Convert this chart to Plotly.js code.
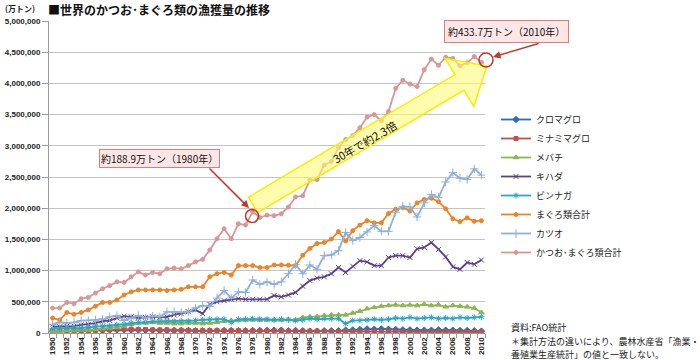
<!DOCTYPE html>
<html><head><meta charset="utf-8">
<script src="https://cdn.plot.ly/plotly-3.0.1.min.js"></script>
<style>html,body{margin:0;padding:0;background:#fff}#chart{width:700px;height:360px}</style>
</head><body><div id="chart"></div>
<script>
const years = [1950,1951,1952,1953,1954,1955,1956,1957,1958,1959,1960,1961,1962,1963,1964,1965,1966,1967,1968,1969,1970,1971,1972,1973,1974,1975,1976,1977,1978,1979,1980,1981,1982,1983,1984,1985,1986,1987,1988,1989,1990,1991,1992,1993,1994,1995,1996,1997,1998,1999,2000,2001,2002,2003,2004,2005,2006,2007,2008,2009,2010];
const tickYears = [1950,1952,1954,1956,1958,1960,1962,1964,1966,1968,1970,1972,1974,1976,1978,1980,1982,1984,1986,1988,1990,1992,1994,1996,1998,2000,2002,2004,2006,2008,2010];
const seriesNames = ['クロマグロ','ミナミマグロ','メバチ','キハダ','ビンナガ','まぐろ類合計','カツオ','かつお･まぐろ類合計'];

const kuromaguro = [30000,30000,35000,35000,40000,40000,45000,45000,50000,50000, 50000,50000,50000,45000,45000,40000,40000,40000,40000,40000, 35000,35000,35000,35000,40000,40000,35000,35000,40000,40000, 40000,45000,45000,35000,40000,35000,30000,30000,35000,35000, 35000,45000,50000,55000,65000,60000,65000,60000,55000,50000, 50000,45000,45000,45000,50000,45000,45000,40000,40000,35000, 30000];
const minamimaguro = [20000,20000,25000,30000,35000,35000,40000,45000,50000,55000, 60000,60000,55000,55000,50000,50000,50000,45000,45000,45000, 40000,40000,40000,40000,40000,40000,40000,35000,35000,35000, 35000,35000,35000,30000,30000,30000,30000,30000,25000,25000, 20000,20000,20000,20000,20000,20000,20000,20000,20000,20000, 15000,15000,15000,15000,15000,15000,15000,15000,15000,15000, 15000];
const mebachi = [30000,30000,40000,40000,50000,50000,60000,70000,80000,90000, 110000,140000,160000,160000,170000,160000,160000,150000,150000,160000, 160000,150000,160000,170000,190000,200000,200000,210000,210000,210000, 210000,210000,210000,220000,210000,250000,260000,260000,280000,290000, 290000,290000,320000,350000,390000,410000,430000,440000,450000,440000, 450000,440000,460000,440000,450000,420000,440000,430000,420000,400000, 330000];
const kihada = [100000,100000,110000,110000,130000,140000,160000,190000,200000,240000, 270000,260000,240000,250000,260000,250000,260000,290000,310000,340000, 370000,310000,460000,500000,520000,540000,550000,540000,540000,540000, 540000,600000,580000,610000,650000,750000,840000,880000,900000,950000, 1050000,970000,1070000,1160000,1140000,1080000,1080000,1210000,1240000,1240000, 1210000,1350000,1370000,1450000,1340000,1220000,1060000,1020000,1130000,1100000, 1170000];
const binnaga = [70000,70000,80000,80000,80000,90000,100000,110000,110000,130000, 140000,160000,170000,180000,190000,190000,190000,190000,190000,190000, 200000,210000,220000,220000,220000,170000,220000,220000,230000,220000, 220000,210000,220000,210000,200000,210000,230000,220000,230000,230000, 230000,150000,200000,200000,210000,220000,210000,220000,240000,230000, 250000,230000,240000,250000,230000,240000,230000,250000,240000,250000, 260000];
const maguroTotal = [240000,210000,330000,300000,330000,370000,430000,490000,490000,530000, 610000,660000,690000,690000,690000,690000,680000,690000,700000,740000, 740000,740000,900000,950000,970000,930000,1080000,1080000,1080000,1050000, 1050000,1090000,1090000,1085000,1080000,1245000,1355000,1435000,1450000,1505000, 1625000,1475000,1640000,1730000,1800000,1765000,1765000,1915000,1985000,2010000, 1955000,2085000,2140000,2160000,2105000,1990000,1830000,1785000,1845000,1790000, 1800000];
const katsuo = [140000,170000,160000,170000,200000,200000,210000,220000,260000,280000, 200000,240000,280000,240000,270000,260000,340000,340000,330000,340000, 400000,440000,430000,560000,680000,560000,660000,650000,850000,780000, 820000,780000,820000,950000,1100000,950000,1090000,1020000,1240000,1250000, 1320000,1610000,1480000,1530000,1620000,1720000,1630000,1630000,1935000,2030000, 2020000,1860000,2085000,2220000,2170000,2420000,2570000,2480000,2460000,2630000, 2530000];
const allTotal = [400000,400000,490000,470000,550000,570000,640000,710000,760000,820000, 810000,900000,980000,930000,970000,950000,1030000,1040000,1030000,1080000, 1140000,1180000,1330000,1510000,1670000,1510000,1750000,1730000,1940000,1850000, 1889000,1880000,1910000,2020000,2180000,2200000,2450000,2460000,2690000,2750000, 2970000,3100000,3160000,3290000,3460000,3500000,3400000,3550000,3920000,4050000, 3990000,3950000,4220000,4390000,4290000,4420000,4400000,4280000,4330000,4430000, 4337000];

const values = [kuromaguro, minamimaguro, mebachi, kihada, binnaga, maguroTotal, katsuo, allTotal];
const colors = ['#2f6eb5','#c0504d','#8db64c','#5b3f8c','#2aa6c4','#ec8324','#8eb0d9','#d99694'];
const symbols = ['diamond','square','triangle-up','x-thin-open','asterisk-open','circle','cross-thin-open','circle'];
const msize = [5,4,5,5,5,4,6,4];

const FONT = 'Noto Sans CJK JP, Noto Sans, sans-serif';
const traces = seriesNames.map((n,i)=>({
  type:'scatter', mode:'lines+markers', name:n, x:years, y:values[i],
  line:{color:colors[i], width:1.8},
  marker:{symbol:symbols[i], size:msize[i], color:colors[i], line:{color:colors[i], width:1}}
}));

// pixel -> paper helpers (plot area: x 49..485, y 21..333)
const L=49, R=215, T=21, B=27, W=700, H=360;
const PW=W-L-R, PH=H-T-B;
const px = v => (v-L)/PW;
const py = v => (H-B-v)/PH;

// big yellow arrow geometry (pixels)
const base=[253,205], tip=[487,66];
const dx=tip[0]-base[0], dy=tip[1]-base[1], len=Math.hypot(dx,dy);
const u=[dx/len, dy/len], nrm=[-u[1], u[0]];
const sw=9, hw=28, hl=32;
const hb=[tip[0]-hl*u[0], tip[1]-hl*u[1]];
const pts=[
  [base[0]-sw*nrm[0], base[1]-sw*nrm[1]],
  [hb[0]-sw*nrm[0], hb[1]-sw*nrm[1]],
  [hb[0]-hw*nrm[0], hb[1]-hw*nrm[1]],
  tip,
  [hb[0]+hw*nrm[0], hb[1]+hw*nrm[1]],
  [hb[0]+sw*nrm[0], hb[1]+sw*nrm[1]],
  [base[0]+sw*nrm[0], base[1]+sw*nrm[1]]
];
const path = 'M ' + pts.map(p=>px(p[0]).toFixed(5)+','+py(p[1]).toFixed(5)).join(' L ') + ' Z';

function circ(cx,cy,r){
  return {type:'circle', xref:'paper', yref:'paper', x0:px(cx-r), x1:px(cx+r), y0:py(cy+r), y1:py(cy-r),
    line:{color:'#c0392b', width:1.5}, fillcolor:'rgba(0,0,0,0)', layer:'above'};
}
function txt(x,y,text,opts){
  return Object.assign({xref:'paper', yref:'paper', x:px(x), y:py(y), xanchor:'center', yanchor:'middle',
    showarrow:false, text:text, font:{family:FONT, size:9, color:'#222'}}, opts||{});
}

const layout = {
  width:W, height:H, margin:{l:L, r:R, t:T, b:B, pad:0},
  paper_bgcolor:'#fff', plot_bgcolor:'#fff',
  font:{family:FONT, size:9, color:'#222'},
  title:{text:'■世界のかつお･まぐろ類の漁獲量の推移', x:48/W, xanchor:'left', y:1-11/H, yanchor:'middle',
    font:{family:FONT, size:12, color:'#111', weight:'bold'}},
  showlegend:true,
  legend:{x:px(496), y:py(105), xanchor:'left', yanchor:'top', font:{family:FONT, size:9, color:'#222'},
    itemwidth:30, bgcolor:'rgba(0,0,0,0)', traceorder:'normal', tracegroupgap:0},
  xaxis:{range:[1949.5,2010.5], tickvals:tickYears, ticktext:tickYears.map(String), tickangle:-90,
    tickfont:{family:'Liberation Sans, Arial', size:8, color:'#222', weight:'bold'},
    showline:true, linecolor:'#9a9a9a', linewidth:1, showgrid:false, zeroline:false, ticks:'',
    minor:{tick0:1949.5, dtick:1, ticks:'outside', ticklen:4, tickcolor:'#9a9a9a', showgrid:false}},
  yaxis:{range:[0,5000000], dtick:500000, tickformat:',d',
    tickfont:{family:'Liberation Sans, Arial', size:8, color:'#222', weight:'bold'},
    showline:true, linecolor:'#9a9a9a', linewidth:1, ticks:'outside', ticklen:6, tickcolor:'#9a9a9a',
    showgrid:true, gridcolor:'#c4c4c4', gridwidth:1, zeroline:false},
  shapes:[
    {type:'path', path:path, xref:'paper', yref:'paper', fillcolor:'rgba(255,250,120,0.6)',
     line:{color:'#f4ee00', width:1.5}, layer:'above'},
    circ(252,216,6.5), circ(486,60,7)
  ],
  annotations:[
    txt(3,9,'(万トン)',{xanchor:'left', font:{family:FONT, size:8, color:'#222', weight:'bold'}}),
    {xref:'paper', yref:'paper', x:px(249), y:py(208), ax:-41, ay:-41, axref:'pixel', ayref:'pixel', text:'',
     showarrow:true, arrowhead:2, arrowsize:1, arrowwidth:1.5, arrowcolor:'#c0392b', standoff:0},
    {xref:'paper', yref:'paper', x:px(493), y:py(57), ax:47, ay:-14, axref:'pixel', ayref:'pixel', text:'',
     showarrow:true, arrowhead:2, arrowsize:1, arrowwidth:1.5, arrowcolor:'#c0392b', standoff:0},
    txt(159,158,'約188.9万トン（1980年）',{font:{family:FONT, size:10, color:'#111'}, bgcolor:'#fde6e6', bordercolor:'#dc7c7f', borderwidth:1, borderpad:1}),
    txt(506,31.5,'約433.7万トン（2010年）',{font:{family:FONT, size:10, color:'#111'}, bgcolor:'#fde6e6', bordercolor:'#dc7c7f', borderwidth:1, borderpad:3}),
    txt(364,142,'30年で約2.3倍',{textangle:-30, font:{family:FONT, size:11, color:'#111'}}),
    txt(509,327,'資料:FAO統計',{xanchor:'left'}),
    txt(509,341,'＊集計方法の違いにより、農林水産省「漁業・',{xanchor:'left'}),
    txt(509,354,'養殖業生産統計」の値と一致しない。',{xanchor:'left'})
  ]
};
Plotly.newPlot('chart', traces, layout, {staticPlot:true, displayModeBar:false});
</script></body></html>
